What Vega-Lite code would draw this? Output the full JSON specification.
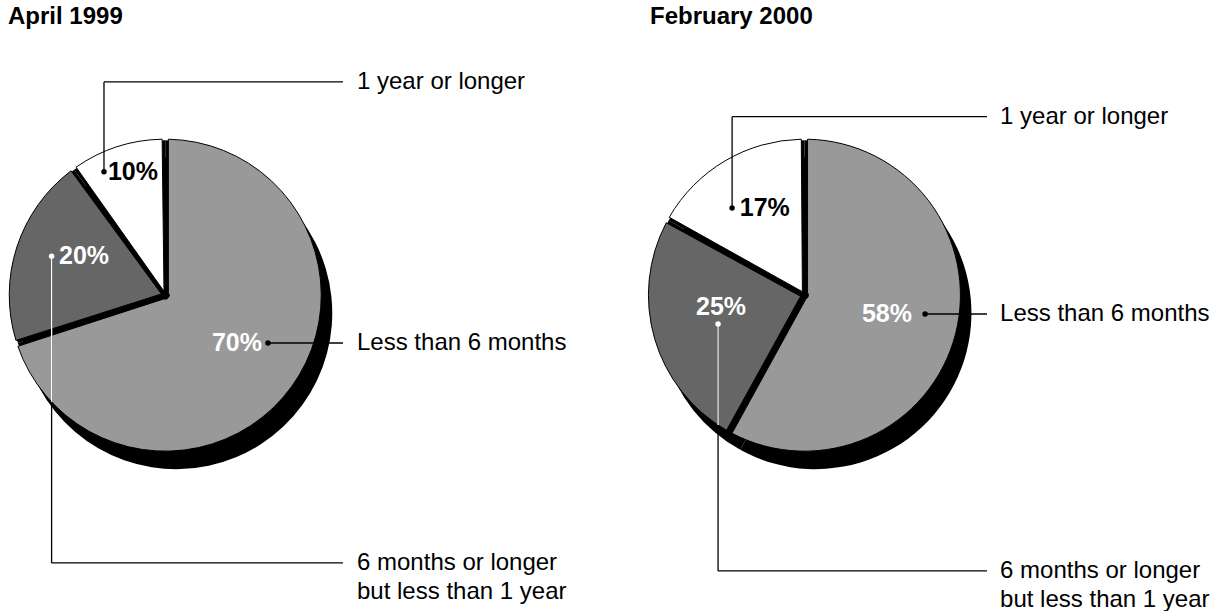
{
  "$schema": "https://vega.github.io/schema/vega-lite/v6.json",
  "padding": {"top": 5, "left": 0, "right": 0, "bottom": 0},
  "spacing": 0,
  "background": "white",
  "config": {
    "view": {"stroke": null},
    "font": "Liberation Sans",
    "title": {"anchor": "start", "frame": "group", "fontSize": 24, "fontWeight": "bold", "color": "black", "font": "Liberation Sans", "offset": 4}
  },
  "datasets": {
    "shares1999": [
      {"duration": "Less than 6 months", "pct": 70, "order": 1},
      {"duration": "6 months or longer but less than 1 year", "pct": 20, "order": 2},
      {"duration": "1 year or longer", "pct": 10, "order": 3}
    ],
    "shares2000": [
      {"duration": "Less than 6 months", "pct": 58, "order": 1},
      {"duration": "6 months or longer but less than 1 year", "pct": 25, "order": 2},
      {"duration": "1 year or longer", "pct": 17, "order": 3}
    ],
    "callouts1999": [
      {"duration": "1 year or longer", "dotX": -0.393, "dotY": 0.792, "labelX": -0.207, "labelY": 0.792, "elbowY": 1.368, "lineEnd": 1.14, "textX": 1.23},
      {"duration": "6 months or longer but less than 1 year", "dotX": -0.729, "dotY": 0.25, "labelX": -0.521, "labelY": 0.251, "elbowY": -1.718, "lineEnd": 1.14, "textX": 1.23, "rimY": -0.685},
      {"duration": "Less than 6 months", "dotX": 0.659, "dotY": -0.307, "labelX": 0.46, "labelY": -0.307, "elbowY": -0.307, "lineEnd": 1.14, "textX": 1.23}
    ],
    "callouts2000": [
      {"duration": "1 year or longer", "dotX": -0.464, "dotY": 0.559, "labelX": -0.254, "labelY": 0.559, "elbowY": 1.145, "lineEnd": 1.171, "textX": 1.255},
      {"duration": "6 months or longer but less than 1 year", "dotX": -0.554, "dotY": -0.185, "labelX": -0.535, "labelY": -0.076, "elbowY": -1.769, "lineEnd": 1.171, "textX": 1.255, "rimY": -0.833},
      {"duration": "Less than 6 months", "dotX": 0.774, "dotY": -0.121, "labelX": 0.529, "labelY": -0.121, "elbowY": -0.121, "lineEnd": 1.171, "textX": 1.255}
    ]
  },
  "hconcat": [
    {
      "width": 608,
      "height": 577,
      "title": {"text": "April 1999", "dx": 8},
      "layer": [
        {
          "data": {"name": "shares1999"},
          "mark": {"type": "arc", "outerRadius": 156, "xOffset": 11, "yOffset": 18, "fill": "black"},
          "encoding": {
            "theta": {"field": "pct", "type": "quantitative", "stack": true},
            "x": {"datum": 0, "type": "quantitative", "scale": {"domain": [-1.06, 2.84], "nice": false, "zero": false}, "axis": null},
            "y": {"datum": 0, "type": "quantitative", "scale": {"domain": [-2.02, 1.682], "nice": false, "zero": false}, "axis": null}
          }
        },
        {
          "data": {"name": "shares1999"},
          "mark": {"type": "arc", "outerRadius": 155, "fill": "black"},
          "encoding": {
            "theta": {"field": "pct", "type": "quantitative", "stack": true},
            "x": {"datum": 0, "type": "quantitative"},
            "y": {"datum": 0, "type": "quantitative"}
          }
        },
        {
          "data": {"name": "shares1999"},
          "mark": {"type": "arc", "outerRadius": 156, "innerRadius": 4, "padAngle": 0.04, "stroke": "black", "strokeWidth": 1},
          "encoding": {
            "theta": {"field": "pct", "type": "quantitative", "stack": true},
            "order": {"field": "order", "type": "quantitative"},
            "fill": {"field": "duration", "type": "nominal", "legend": null,
              "scale": {"domain": ["Less than 6 months", "6 months or longer but less than 1 year", "1 year or longer"], "range": ["#999999", "#666666", "#ffffff"]}},
            "x": {"datum": 0, "type": "quantitative"},
            "y": {"datum": 0, "type": "quantitative"}
          }
        },
        {
          "data": {"name": "callouts1999"},
          "mark": {"type": "rule", "color": "black", "strokeWidth": 1.3},
          "encoding": {
            "x": {"field": "dotX", "type": "quantitative"},
            "y": {"field": "dotY", "type": "quantitative"},
            "y2": {"field": "elbowY"}
          }
        },
        {
          "data": {"name": "callouts1999"},
          "mark": {"type": "rule", "color": "black", "strokeWidth": 1.3},
          "encoding": {
            "x": {"field": "dotX", "type": "quantitative"},
            "x2": {"field": "lineEnd"},
            "y": {"field": "elbowY", "type": "quantitative"}
          }
        },
        {
          "data": {"name": "callouts1999"},
          "transform": [{"filter": "isValid(datum.rimY)"}],
          "mark": {"type": "rule", "color": "white", "strokeWidth": 1.3},
          "encoding": {
            "x": {"field": "dotX", "type": "quantitative"},
            "y": {"field": "dotY", "type": "quantitative"},
            "y2": {"field": "rimY"}
          }
        },
        {
          "data": {"name": "callouts1999"},
          "mark": {"type": "point", "filled": true, "size": 30, "opacity": 1, "shape": "circle"},
          "encoding": {
            "x": {"field": "dotX", "type": "quantitative"},
            "y": {"field": "dotY", "type": "quantitative"},
            "color": {"condition": {"test": "datum.duration === '6 months or longer but less than 1 year'", "value": "white"}, "value": "black"}
          }
        },
        {
          "data": {"name": "callouts1999"},
          "transform": [
            {"lookup": "duration", "from": {"data": {"name": "shares1999"}, "key": "duration", "fields": ["pct"]}},
            {"calculate": "datum.pct + '%'", "as": "pctLabel"}
          ],
          "mark": {"type": "text", "fontSize": 25, "fontWeight": "bold", "align": "center", "baseline": "middle"},
          "encoding": {
            "x": {"field": "labelX", "type": "quantitative"},
            "y": {"field": "labelY", "type": "quantitative"},
            "text": {"field": "pctLabel"},
            "color": {"condition": {"test": "datum.duration === '1 year or longer'", "value": "black"}, "value": "white"}
          }
        },
        {
          "data": {"name": "callouts1999"},
          "transform": [{"calculate": "replace(datum.duration, ' but ', '\\nbut ')", "as": "caption"}],
          "mark": {"type": "text", "fontSize": 24, "align": "left", "baseline": "middle", "lineBreak": "\n", "lineHeight": 29, "color": "black"},
          "encoding": {
            "x": {"field": "textX", "type": "quantitative"},
            "y": {"field": "elbowY", "type": "quantitative"},
            "text": {"field": "caption"}
          }
        }
      ]
    },
    {
      "width": 608,
      "height": 577,
      "title": {"text": "February 2000", "dx": 42},
      "layer": [
        {
          "data": {"name": "shares2000"},
          "mark": {"type": "arc", "outerRadius": 156, "xOffset": 11, "yOffset": 18, "fill": "black"},
          "encoding": {
            "theta": {"field": "pct", "type": "quantitative", "stack": true},
            "x": {"datum": 0, "type": "quantitative", "scale": {"domain": [-1.26, 2.64], "nice": false, "zero": false}, "axis": null},
            "y": {"datum": 0, "type": "quantitative", "scale": {"domain": [-2.02, 1.682], "nice": false, "zero": false}, "axis": null}
          }
        },
        {
          "data": {"name": "shares2000"},
          "mark": {"type": "arc", "outerRadius": 155, "fill": "black"},
          "encoding": {
            "theta": {"field": "pct", "type": "quantitative", "stack": true},
            "x": {"datum": 0, "type": "quantitative"},
            "y": {"datum": 0, "type": "quantitative"}
          }
        },
        {
          "data": {"name": "shares2000"},
          "mark": {"type": "arc", "outerRadius": 156, "innerRadius": 4, "padAngle": 0.04, "stroke": "black", "strokeWidth": 1},
          "encoding": {
            "theta": {"field": "pct", "type": "quantitative", "stack": true},
            "order": {"field": "order", "type": "quantitative"},
            "fill": {"field": "duration", "type": "nominal", "legend": null,
              "scale": {"domain": ["Less than 6 months", "6 months or longer but less than 1 year", "1 year or longer"], "range": ["#999999", "#666666", "#ffffff"]}},
            "x": {"datum": 0, "type": "quantitative"},
            "y": {"datum": 0, "type": "quantitative"}
          }
        },
        {
          "data": {"name": "callouts2000"},
          "mark": {"type": "rule", "color": "black", "strokeWidth": 1.3},
          "encoding": {
            "x": {"field": "dotX", "type": "quantitative"},
            "y": {"field": "dotY", "type": "quantitative"},
            "y2": {"field": "elbowY"}
          }
        },
        {
          "data": {"name": "callouts2000"},
          "mark": {"type": "rule", "color": "black", "strokeWidth": 1.3},
          "encoding": {
            "x": {"field": "dotX", "type": "quantitative"},
            "x2": {"field": "lineEnd"},
            "y": {"field": "elbowY", "type": "quantitative"}
          }
        },
        {
          "data": {"name": "callouts2000"},
          "transform": [{"filter": "isValid(datum.rimY)"}],
          "mark": {"type": "rule", "color": "white", "strokeWidth": 1.3},
          "encoding": {
            "x": {"field": "dotX", "type": "quantitative"},
            "y": {"field": "dotY", "type": "quantitative"},
            "y2": {"field": "rimY"}
          }
        },
        {
          "data": {"name": "callouts2000"},
          "mark": {"type": "point", "filled": true, "size": 30, "opacity": 1, "shape": "circle"},
          "encoding": {
            "x": {"field": "dotX", "type": "quantitative"},
            "y": {"field": "dotY", "type": "quantitative"},
            "color": {"condition": {"test": "datum.duration === '6 months or longer but less than 1 year'", "value": "white"}, "value": "black"}
          }
        },
        {
          "data": {"name": "callouts2000"},
          "transform": [
            {"lookup": "duration", "from": {"data": {"name": "shares2000"}, "key": "duration", "fields": ["pct"]}},
            {"calculate": "datum.pct + '%'", "as": "pctLabel"}
          ],
          "mark": {"type": "text", "fontSize": 25, "fontWeight": "bold", "align": "center", "baseline": "middle"},
          "encoding": {
            "x": {"field": "labelX", "type": "quantitative"},
            "y": {"field": "labelY", "type": "quantitative"},
            "text": {"field": "pctLabel"},
            "color": {"condition": {"test": "datum.duration === '1 year or longer'", "value": "black"}, "value": "white"}
          }
        },
        {
          "data": {"name": "callouts2000"},
          "transform": [{"calculate": "replace(datum.duration, ' but ', '\\nbut ')", "as": "caption"}],
          "mark": {"type": "text", "fontSize": 24, "align": "left", "baseline": "middle", "lineBreak": "\n", "lineHeight": 29, "color": "black"},
          "encoding": {
            "x": {"field": "textX", "type": "quantitative"},
            "y": {"field": "elbowY", "type": "quantitative"},
            "text": {"field": "caption"}
          }
        }
      ]
    }
  ]
}
